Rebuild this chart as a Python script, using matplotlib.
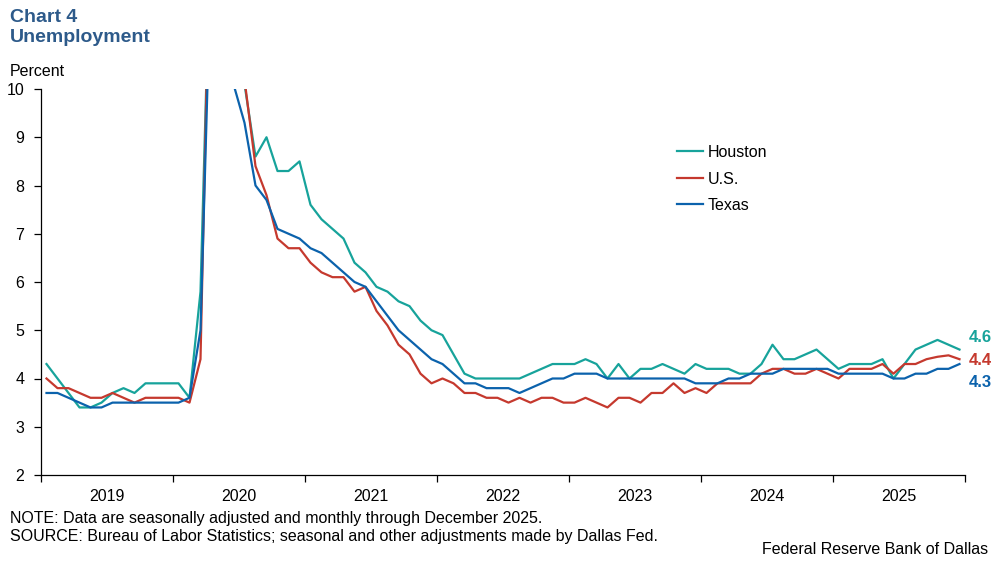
import numpy as np
import matplotlib
matplotlib.use('Agg')
import matplotlib.pyplot as plt

plt.rcParams['font.family'] = ['Liberation Sans', 'DejaVu Sans']

# monthly unemployment rate, Jan 2019 - Dec 2025 (percent)
years = ['2019', '2020', '2021', '2022', '2023', '2024', '2025']

houston = [4.3, 4.0, 3.7, 3.4, 3.4, 3.5, 3.7, 3.8, 3.7, 3.9, 3.9, 3.9,
           3.9, 3.6, 5.8, 14.0, 13.0, 11.5, 10.1, 8.6, 9.0, 8.3, 8.3, 8.5,
           7.6, 7.3, 7.1, 6.9, 6.4, 6.2, 5.9, 5.8, 5.6, 5.5, 5.2, 5.0,
           4.9, 4.5, 4.1, 4.0, 4.0, 4.0, 4.0, 4.0, 4.1, 4.2, 4.3, 4.3,
           4.3, 4.4, 4.3, 4.0, 4.3, 4.0, 4.2, 4.2, 4.3, 4.2, 4.1, 4.3,
           4.2, 4.2, 4.2, 4.1, 4.1, 4.3, 4.7, 4.4, 4.4, 4.5, 4.6, 4.4,
           4.2, 4.3, 4.3, 4.3, 4.4, 4.0, 4.3, 4.6, 4.7, 4.8, 4.7, 4.6]

us = [4.0, 3.8, 3.8, 3.7, 3.6, 3.6, 3.7, 3.6, 3.5, 3.6, 3.6, 3.6,
      3.6, 3.5, 4.4, 14.8, 13.2, 11.0, 10.2, 8.4, 7.8, 6.9, 6.7, 6.7,
      6.4, 6.2, 6.1, 6.1, 5.8, 5.9, 5.4, 5.1, 4.7, 4.5, 4.1, 3.9,
      4.0, 3.9, 3.7, 3.7, 3.6, 3.6, 3.5, 3.6, 3.5, 3.6, 3.6, 3.5,
      3.5, 3.6, 3.5, 3.4, 3.6, 3.6, 3.5, 3.7, 3.7, 3.9, 3.7, 3.8,
      3.7, 3.9, 3.9, 3.9, 3.9, 4.1, 4.2, 4.2, 4.1, 4.1, 4.2, 4.1,
      4.0, 4.2, 4.2, 4.2, 4.3, 4.1, 4.3, 4.3, 4.4, 4.45, 4.48, 4.4]

texas = [3.7, 3.7, 3.6, 3.5, 3.4, 3.4, 3.5, 3.5, 3.5, 3.5, 3.5, 3.5,
         3.5, 3.6, 5.0, 13.0, 12.5, 10.1, 9.3, 8.0, 7.7, 7.1, 7.0, 6.9,
         6.7, 6.6, 6.4, 6.2, 6.0, 5.9, 5.6, 5.3, 5.0, 4.8, 4.6, 4.4,
         4.3, 4.1, 3.9, 3.9, 3.8, 3.8, 3.8, 3.7, 3.8, 3.9, 4.0, 4.0,
         4.1, 4.1, 4.1, 4.0, 4.0, 4.0, 4.0, 4.0, 4.0, 4.0, 4.0, 3.9,
         3.9, 3.9, 4.0, 4.0, 4.1, 4.1, 4.1, 4.2, 4.2, 4.2, 4.2, 4.2,
         4.1, 4.1, 4.1, 4.1, 4.1, 4.0, 4.0, 4.1, 4.1, 4.2, 4.2, 4.3]

c_hou = '#17A39B'
c_us = '#C5392E'
c_tx = '#0B62AC'
c_title = '#2D5A8A'

fig = plt.figure(figsize=(9.97, 5.65), dpi=100)
ax = fig.add_axes([41/997, 1 - 475/565, 924/997, 386/565])

x = np.arange(len(houston)) + 0.5
ax.plot(x, houston, color=c_hou, lw=1.6, label='Houston')
ax.plot(x, us, color=c_us, lw=1.6, label='U.S.')
ax.plot(x, texas, color=c_tx, lw=1.6, label='Texas')

ax.set_xlim(0, 84)
ax.set_ylim(2, 10)
ax.set_yticks(range(2, 11))
ax.set_xticks(np.arange(0, 85, 12))
ax.set_xticklabels([])
ax.set_xticks(np.arange(6, 84, 12), minor=True)
ax.set_xticklabels(years, minor=True)
ax.tick_params(axis='x', which='major', direction='out', length=5, width=0.9)
ax.tick_params(axis='x', which='minor', length=0, pad=10, labelsize=11.5)
ax.tick_params(axis='y', direction='out', length=5, width=0.9, pad=7, labelsize=11.5)

for s in ['top', 'right']:
  ax.spines[s].set_visible(False)
for s in ['left', 'bottom']:
  ax.spines[s].set_linewidth(0.9)

# end-of-series labels
ax.text(84.3, 4.84, '4.6', color=c_hou, fontsize=12, fontweight='bold', va='center', clip_on=False)
ax.text(84.3, 4.38, '4.4', color=c_us, fontsize=12, fontweight='bold', va='center', clip_on=False)
ax.text(84.3, 3.91, '4.3', color=c_tx, fontsize=12, fontweight='bold', va='center', clip_on=False)

fig.legend(loc='upper left', bbox_to_anchor=(677/997, 1 - 145/565), frameon=False,
           fontsize=11.5, handlelength=1.6, handletextpad=0.3, labelspacing=0.72,
           borderpad=0, borderaxespad=0)

fig.text(10/997, 1 - 17/565, 'Chart 4', fontsize=14, fontweight='bold', color=c_title, va='center')
fig.text(10/997, 1 - 38/565, 'Unemployment', fontsize=14, fontweight='bold', color=c_title, va='center')
fig.text(10/997, 1 - 71/565, 'Percent', fontsize=11.5, va='center')

fig.text(10/997, 1 - 519/565, 'NOTE: Data are seasonally adjusted and monthly through December 2025.',
         fontsize=11.5, va='center')
fig.text(10/997, 1 - 537/565, 'SOURCE: Bureau of Labor Statistics; seasonal and other adjustments made by Dallas Fed.',
         fontsize=11.5, va='center')
fig.text(988/997, 1 - 550/565, 'Federal Reserve Bank of Dallas', fontsize=11.5, va='center', ha='right')

fig.savefig('out.png', dpi=100)
